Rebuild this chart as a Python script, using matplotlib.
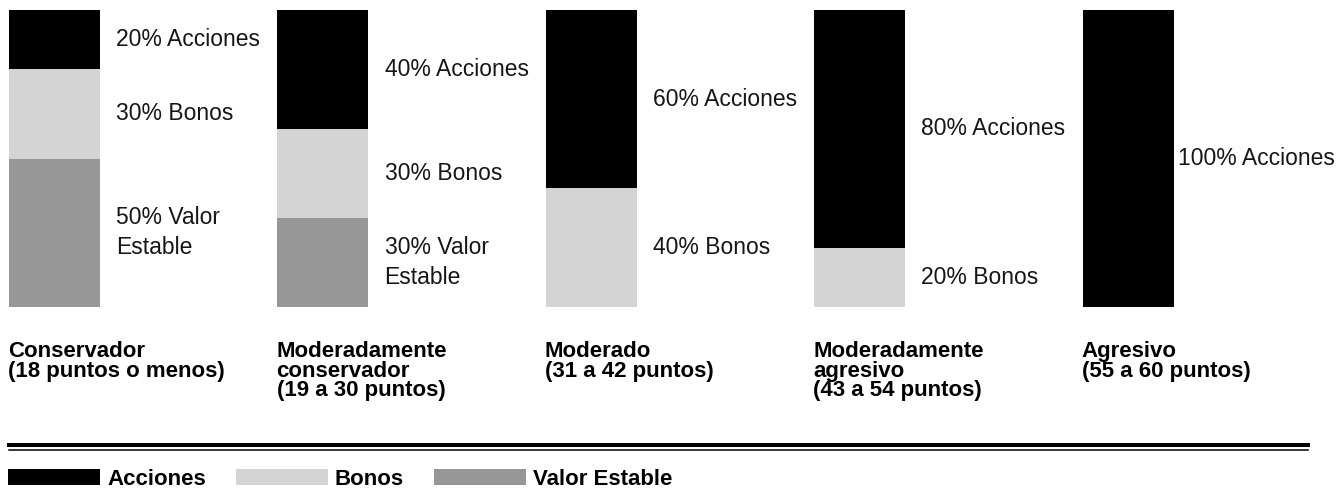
import numpy as np
import matplotlib.pyplot as plt
from matplotlib.patches import Patch
from matplotlib.lines import Line2D

plt.rcParams['font.family'] = ['Liberation Sans', 'DejaVu Sans']

profiles = ['Conservador\n(18 puntos o menos)',
            'Moderadamente\nconservador\n(19 a 30 puntos)',
            'Moderado\n(31 a 42 puntos)',
            'Moderadamente\nagresivo\n(43 a 54 puntos)',
            'Agresivo\n(55 a 60 puntos)']
acciones = [20, 40, 60, 80, 100]
bonos = [30, 30, 40, 20, 0]
valor_estable = [50, 30, 0, 0, 0]

series = ['Acciones', 'Bonos', 'Valor Estable']
seg_labels = ['{}% Acciones', '{}% Bonos', '{}% Valor\nEstable']
colors = ['#000000', '#d4d4d4', '#979797']

W, H = 1341, 491
fig = plt.figure(figsize=(W / 100, H / 100), dpi=100)
ax = fig.add_axes([0, 1 - 307 / H, 1, 297 / H])

step = 268.4
x = np.arange(len(profiles))
bw = 91 / step
ax.set_xlim(-54.5 / step, (W - 54.5) / step)
ax.set_ylim(0, 100)
ax.axis('off')

# stack from the bottom: valor estable, bonos, acciones
vals = [acciones, bonos, valor_estable]
bottom = np.zeros(len(profiles))
for k in [2, 1, 0]:
    v = np.array(vals[k], dtype=float)
    ax.bar(x, v, bw, bottom=bottom, color=colors[k], edgecolor='none')
    for i in range(len(profiles)):
        if v[i] > 0:
            pad = 0.06 if i < len(profiles) - 1 else 0.016
            ax.text(x[i] + bw / 2 + pad, bottom[i] + v[i] / 2,
                    seg_labels[k].format(int(v[i])), fontsize=16.5,
                    va='center', ha='left', linespacing=1.4, color='#161616')
    bottom += v

for i, p in enumerate(profiles):
    ax.text(x[i] - bw / 2 - 0.003, -11.6, p, fontsize=16, fontweight='bold',
            va='top', ha='left', linespacing=0.9, clip_on=False)

# double rule above the legend
fig.add_artist(Line2D([9 / W, 1308 / W], [1 - 444.5 / H] * 2, color='black', lw=2.9))
fig.add_artist(Line2D([9 / W, 1308 / W], [1 - 450.2 / H] * 2, color='black', lw=1.1))

handles = [Patch(facecolor=c, edgecolor='none', label=s) for c, s in zip(colors, series)]
fig.legend(handles=handles, loc='center left', bbox_to_anchor=(8 / W, 1 - 479.5 / H),
           ncol=3, frameon=False, prop={'size': 16, 'weight': 'bold'},
           handlelength=4.14, handleheight=0.72, handletextpad=0.32,
           columnspacing=1.35, borderpad=0, borderaxespad=0)

fig.savefig('out.png', dpi=100)
